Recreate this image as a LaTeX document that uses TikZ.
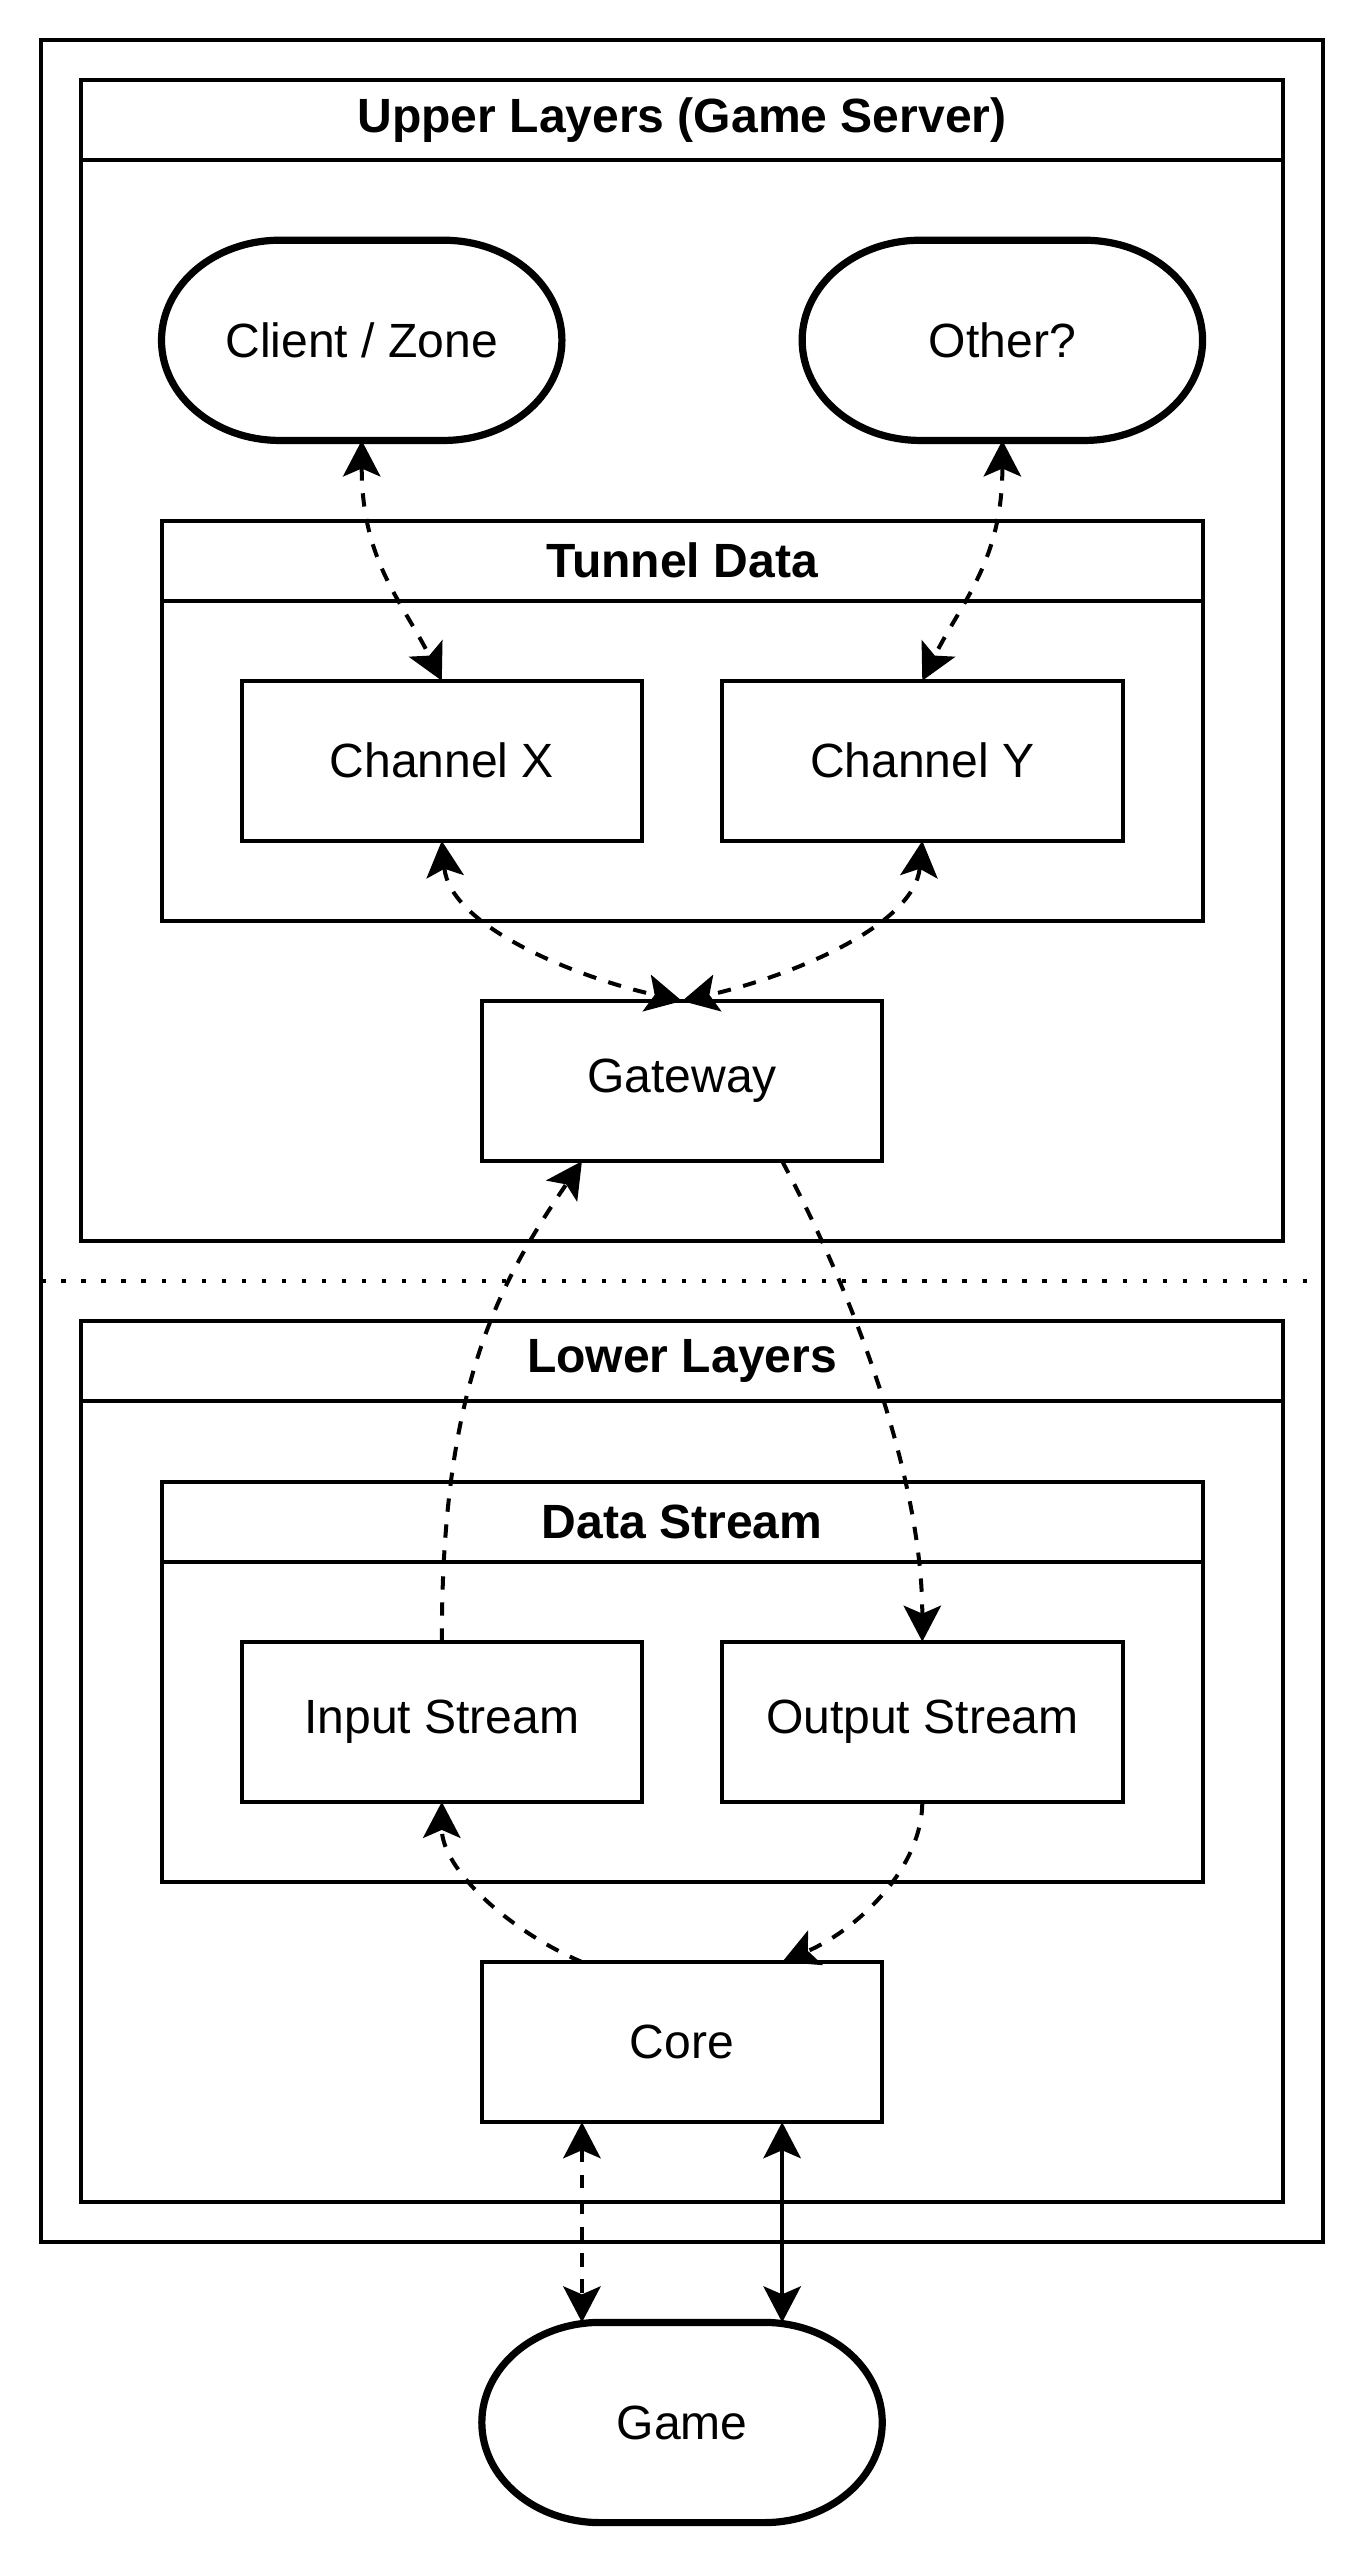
\documentclass[tikz,border=0pt]{standalone}
\usepackage{fontspec}
\setmainfont{Liberation Sans}
\usetikzlibrary{arrows.meta}

% stadium outline round a (blank) node
\newcommand{\Terminator}[1]{%
  \draw[termline] ([xshift=44.25pt]#1.north west) -- ([xshift=-44.25pt]#1.north east)
    arc[start angle=90,end angle=-90,x radius=44.25pt,y radius=37.5pt]
    -- ([xshift=44.25pt]#1.south west)
    arc[start angle=270,end angle=90,x radius=44.25pt,y radius=37.5pt] -- cycle;}
% header rule of a layer box
\newcommand{\Header}[1]{%
  \draw[line width=1.5pt] ([yshift=-30pt]#1.north west) -- ([yshift=-30pt]#1.north east);}

\begin{document}
\begin{tikzpicture}[x=1pt,y=1pt,>={Stealth[length=13.5pt,width=14pt,inset=3pt]}]
  \tikzset{box/.style={draw,line width=1.5pt,inner sep=0pt,outer sep=0pt,
                       minimum width=150pt,minimum height=60pt,
                       font=\fontsize{18pt}{21pt}\selectfont}}
  \tikzset{term/.style={box,draw=none,minimum height=75pt}}
  \tikzset{termline/.style={line width=2.7pt}}
  \tikzset{title/.style={font=\fontsize{18pt}{21pt}\selectfont\bfseries}}
  \tikzset{link/.style={line width=1.5pt}}
  \tikzset{dashlink/.style={link,dash pattern=on 5pt off 4.75pt}}
  \tikzset{sepline/.style={line width=1.6pt,dash pattern=on 1.6pt off 5.9pt}}
  \useasboundingbox (0,0) rectangle (511,962);

  % Server
  \node[box,minimum width=480pt,minimum height=825pt] (Server) at (255.5,534.5) {};
  \coordinate (SepL) at (15.5,482);
  \coordinate (SepR) at (495.5,482);
  \draw[sepline] (SepL) -- (SepR);

  % Upper
  \node[box,minimum width=450pt,minimum height=435pt] (Upper) at (255.5,714.5) {};
  \Header{Upper}
  \node[title] (UpperT) at ([yshift=-15pt]Upper.north) {Upper Layers (Game Server)};
  \node[term] (Client) at (135.5,834.5) {Client / Zone};
  \node[term] (Other) at (375.5,834.5) {Other?};
  \Terminator{Client}
  \Terminator{Other}
  \node[box,minimum width=390pt,minimum height=150pt] (Tunnel) at (255.5,692) {};
  \Header{Tunnel}
  \node[title] (TunnelT) at ([yshift=-15pt]Tunnel.north) {Tunnel Data};
  \node[box] (ChanX) at (165.5,677) {Channel X};
  \node[box] (ChanY) at (345.5,677) {Channel Y};
  \node[box] (Gateway) at (255.5,557) {Gateway};

  % Lower
  \node[box,minimum width=450pt,minimum height=330pt] (Lower) at (255.5,302) {};
  \Header{Lower}
  \node[title] (LowerT) at ([yshift=-15pt]Lower.north) {Lower Layers};
  \node[box,minimum width=390pt,minimum height=150pt] (Stream) at (255.5,332) {};
  \Header{Stream}
  \node[title] (StreamT) at ([yshift=-15pt]Stream.north) {Data Stream};
  \node[box] (InStream) at (165.5,317) {Input Stream};
  \node[box] (OutStream) at (345.5,317) {Output Stream};
  \node[box] (Core) at (255.5,197) {Core};
  \node[term] (Game) at (255.5,54.5) {Game};
  \Terminator{Game}

  % Upper links
  \draw[dashlink,<->] (Client.south) .. controls +(0,-45) and +(-15,30) .. (ChanX.north);
  \draw[dashlink,<->] (Other.south) .. controls +(0,-45) and +(15,30) .. (ChanY.north);
  \draw[dashlink,<->] (ChanX.south) .. controls +(3,-32) and +(-40,9) .. (Gateway.north);
  \draw[dashlink,<->] (ChanY.south) .. controls +(-3,-32) and +(40,9) .. (Gateway.north);

  % Lower links
  \draw[dashlink,->] (InStream.north) .. controls +(0,95) and +(-32,-47) .. ([xshift=37.5pt]Gateway.south west);
  \draw[dashlink,->] ([xshift=-37.5pt]Gateway.south east) .. controls +(28,-52) and +(0,60) .. (OutStream.north);
  \draw[dashlink,->] ([xshift=37.5pt]Core.north west) .. controls +(-28,12) and +(0,-25) .. (InStream.south);
  \draw[dashlink,->] (OutStream.south) .. controls +(0,-25) and +(28,12) .. ([xshift=-37.5pt]Core.north east);

  % Game
  \draw[dashlink,<->] ([xshift=37.5pt]Core.south west) -- ([xshift=37.5pt]Game.north west);
  \draw[link,<->] ([xshift=-37.5pt]Core.south east) -- ([xshift=-37.5pt]Game.north east);
\end{tikzpicture}
\end{document}
